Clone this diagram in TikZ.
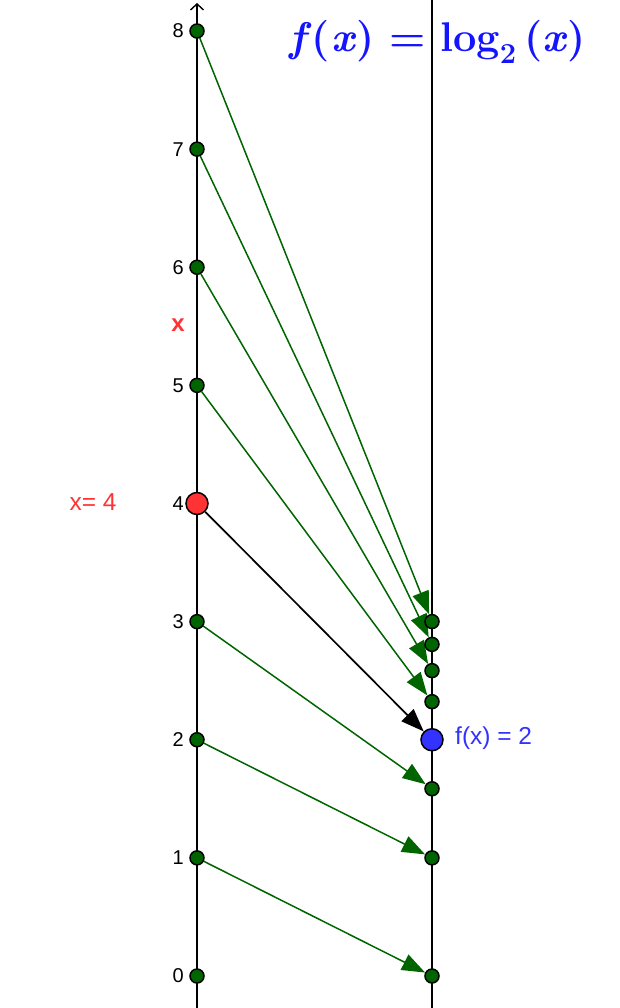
\documentclass[tikz,border=0pt]{standalone}
\usepackage{fontspec}
\setsansfont{Liberation Sans}
\usetikzlibrary{arrows.meta}
\definecolor{ggreen}{RGB}{0,100,0}
\definecolor{pred}{RGB}{255,51,51}
\definecolor{pblue}{RGB}{51,51,255}
\definecolor{tblue}{RGB}{20,20,255}
\pgfdeclarelayer{bg}
\pgfsetlayers{bg,main}
\newcommand{\mytitletext}{\bfseries{\itshape f\/}(\hspace{0.05em}{\itshape x\/})\hspace{0.35em}=\hspace{0.35em}log\raisebox{-0.28em}{\fontsize{29}{29}\selectfont 2}\hspace{0.2em}({\itshape x\/})}
\begin{document}
\begin{tikzpicture}[x=1pt,y=-1pt,
  gpt/.style={circle,draw=black,fill=ggreen,line width=1.5pt,minimum size=14pt,inner sep=0pt},
  bigpt/.style={circle,draw=black,line width=1.5pt,minimum size=22pt,inner sep=0pt},
  garrow/.style={ggreen,line width=1.5pt,-{Triangle[length=23pt,width=17pt]}},
  barrow/.style={black,line width=1.7pt,-{Triangle[length=23pt,width=17pt]}},
  axisline/.style={black,line width=1.4pt},
  ticklbl/.style={font=\sffamily\fontsize{20}{22}\selectfont,anchor=east,inner sep=0pt},
  lbl/.style={font=\sffamily\fontsize{24.5}{28}\selectfont,inner sep=0pt},
  titlefont/.style={font=\rmfamily\fontsize{41.5}{48}\selectfont,inner sep=0pt}]
\useasboundingbox (0,0) rectangle (619,1008);
% axes
\coordinate (axbot) at (197,1008);
\coordinate (axtop) at (197,3);
\coordinate (rtop) at (432,0);
\coordinate (rbot) at (432,1008);
\begin{pgfonlayer}{bg}
\draw[axisline,-{Straight Barb[length=6pt,width=13pt]}] (axbot) -- (axtop);
\draw[axisline] (rtop) -- (rbot);
\end{pgfonlayer}
% left points and tick labels
\foreach \i in {0,1,2,3,5,6,7,8}{
  \node[gpt] (L\i) at (197,{976-118.125*\i}) {};
}
\node[bigpt,fill=pred] (L4) at (197,{976-118.125*4}) {};
\foreach \i in {0,...,8}{
  \node[ticklbl] (T\i) at (184,{976-118.125*\i}) {\i};
}
% right points
\foreach \i in {1,2,3,5,6,7,8}{
  \node[gpt] (R\i) at (432,{976-118.125*ln(\i)/ln(2)}) {};
}
\node[bigpt,fill=pblue] (R4) at (432,{976-118.125*2}) {};
% arrows
\begin{pgfonlayer}{bg}
\foreach \i in {1,2,3,5,6,7,8}{
  \draw[garrow] (L\i) -- (R\i);
}
\draw[barrow] (L4) -- (R4);
\end{pgfonlayer}
% labels
\node[lbl,text=pred,font=\sffamily\bfseries\fontsize{24}{28}\selectfont] (xlab) at (178,325) {x};
\node[lbl,text=pred] (xval) at (93,502) {x= 4};
\node[lbl,text=pblue,anchor=west] (fval) at (455,738) {f(x) = 2};
\node[titlefont,text=tblue] (ttl) at (437.5,42) {\mytitletext};
\end{tikzpicture}
\end{document}
